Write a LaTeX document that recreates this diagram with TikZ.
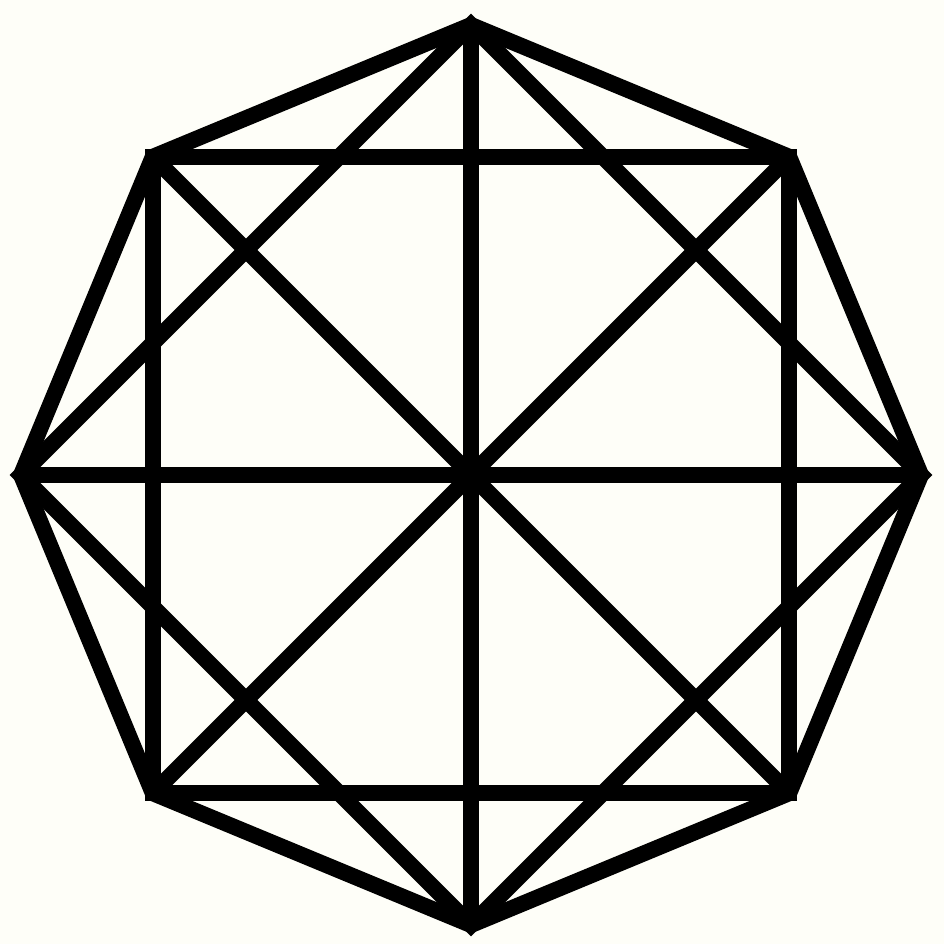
\documentclass[tikz,border=0pt]{standalone}
\usetikzlibrary{calc}
\definecolor{bg}{RGB}{254,254,248}
\tikzset{edge/.style={line width=16bp, line join=miter, line cap=butt, black}}
\begin{document}
\begin{tikzpicture}[x=1bp,y=-1bp]
\fill[bg] (0,0) rectangle (944,944);
\useasboundingbox (0,0) rectangle (944,944);
\coordinate (c) at (471,475);
\foreach \i/\n in {0/R,1/LR,2/B,3/LL,4/L,5/UL,6/T,7/UR}{
  \coordinate (\n) at ($(c)+({\i*45}:450)$);
}
\draw[edge] (T) -- (UR) -- (R) -- (LR) -- (B) -- (LL) -- (L) -- (UL) -- cycle;
\draw[edge] (UL) -- (UR) -- (LR) -- (LL) -- cycle;
\draw[edge] (T) -- (R) -- (B) -- (L) -- cycle;
\draw[edge] (T) -- (B);
\draw[edge] (L) -- (R);
\draw[edge] (UL) -- (LR);
\draw[edge] (UR) -- (LL);
\end{tikzpicture}
\end{document}
